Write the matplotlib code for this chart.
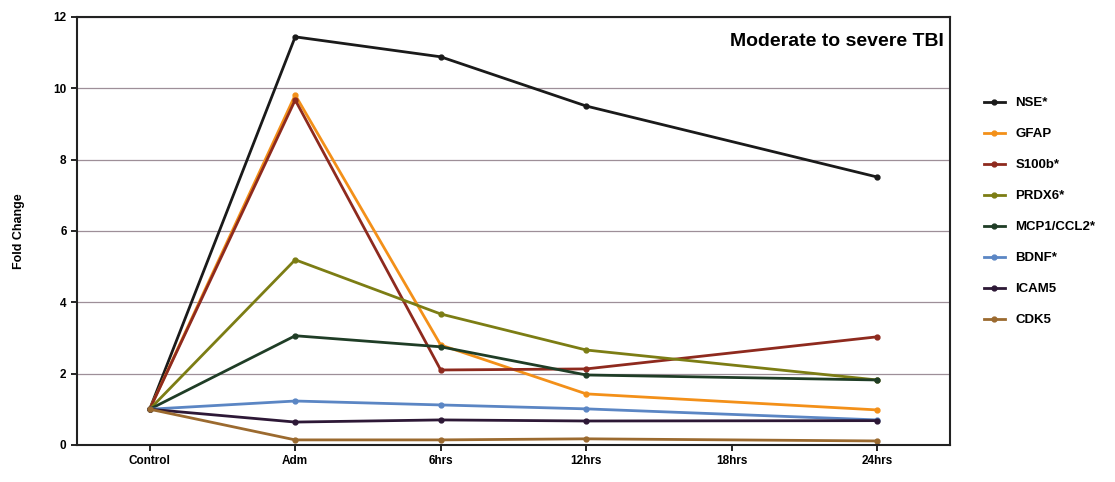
import matplotlib
matplotlib.use("Agg")
import matplotlib.pyplot as plt

plt.rcParams["font.family"] = ["Liberation Sans", "DejaVu Sans"]
plt.rcParams["font.weight"] = "bold"

times = ["Control", "Adm", "6hrs", "12hrs", "18hrs", "24hrs"]
# positions used for sampled time points (18hrs has no data)
sampled = [0, 1, 2, 3, 5]

nse = [1.0, 11.44, 10.88, 9.5, 7.51]
gfap = [1.0, 9.81, 2.8, 1.43, 0.98]
s100b = [1.0, 9.67, 2.1, 2.13, 3.03]
prdx6 = [1.0, 5.19, 3.67, 2.66, 1.82]
mcp1 = [1.0, 3.06, 2.75, 1.96, 1.82]
bdnf = [1.0, 1.23, 1.12, 1.01, 0.7]
icam5 = [1.0, 0.64, 0.7, 0.67, 0.68]
cdk5 = [1.0, 0.14, 0.14, 0.17, 0.11]

series = [
    ("NSE*", nse, "#1a1a1a"),
    ("GFAP", gfap, "#f39019"),
    ("S100b*", s100b, "#8e2a1e"),
    ("PRDX6*", prdx6, "#7c7d14"),
    ("MCP1/CCL2*", mcp1, "#1f3d26"),
    ("BDNF*", bdnf, "#5b86c4"),
    ("ICAM5", icam5, "#2d1836"),
    ("CDK5", cdk5, "#9b6a2f"),
]

fig = plt.figure(figsize=(11.15, 4.82), dpi=100)
ax = fig.add_axes([0.069, 0.077, 0.783, 0.888])

for label, vals, color in series:
    ax.plot(sampled, vals, color=color, lw=2, marker="o", markersize=3.5, label=label)

ax.set_xlim(-0.5, 5.5)
ax.set_ylim(0, 12)
ax.set_xticks(range(len(times)))
ax.set_xticklabels(times, fontsize=8.5, fontweight="bold")
ax.set_yticks(range(0, 13, 2))
ax.set_yticklabels([str(v) for v in range(0, 13, 2)], fontsize=8.5, fontweight="bold")
ax.tick_params(direction="out", length=4, width=1.2)
ax.yaxis.grid(True, color="#9e8f98", lw=0.9)
ax.set_axisbelow(True)
for s in ax.spines.values():
    s.set_linewidth(1.5)
    s.set_color("#222222")

ax.set_ylabel("Fold Change", fontsize=9, fontweight="bold", labelpad=20)
ax.text(0.993, 0.943, "Moderate to severe TBI", transform=ax.transAxes,
        ha="right", va="center", fontsize=14, fontweight="bold")

ax.legend(loc="upper left", bbox_to_anchor=(1.025, 0.84), frameon=False,
          fontsize=9.5, handlelength=1.6, labelspacing=1.42)

fig.savefig("out.png", dpi=100)
